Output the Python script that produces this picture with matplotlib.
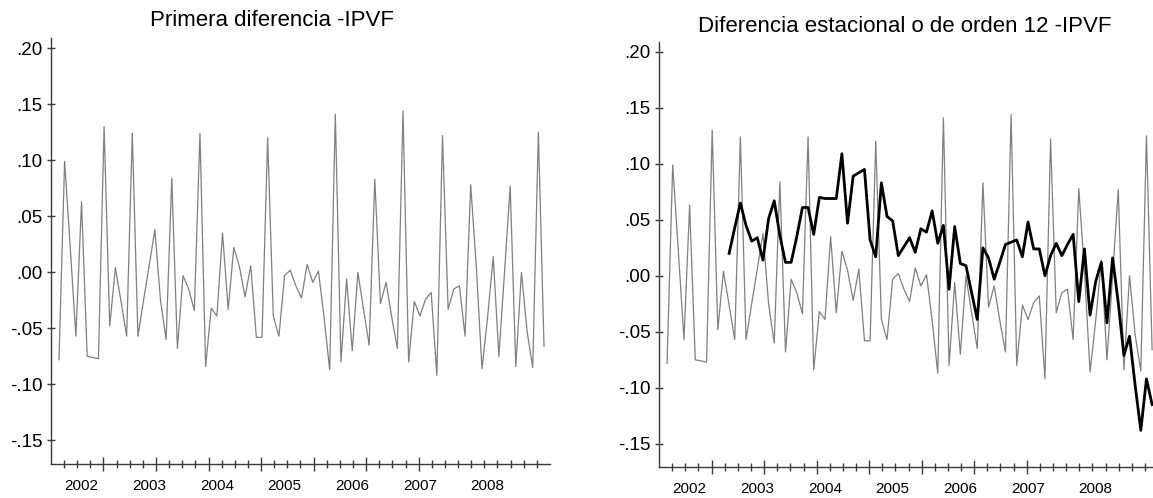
"""
IPVF - primera diferencia y diferencia estacional (orden 12)
Dos paneles estilo EViews, guardado como out.png
"""

import numpy as np
import matplotlib
matplotlib.use('Agg')
import matplotlib.pyplot as plt
import matplotlib.transforms as mtransforms
from matplotlib.ticker import FixedLocator, FuncFormatter

plt.rcParams['font.family'] = ['Liberation Sans', 'DejaVu Sans']

# ============================================================
#  Datos
# ============================================================
# D(log IPVF), mensual desde 2002M03
d1 = [
    -0.078, 0.099, 0.022, -0.057, 0.063, -0.075, -0.076, -0.077, 0.130, -0.048,
    0.004, -0.026, -0.057, 0.124, -0.057, -0.025, 0.006, 0.038, -0.025, -0.060,
    0.084, -0.068, -0.003, -0.015, -0.034, 0.124, -0.084, -0.032, -0.039, 0.035,
    -0.033, 0.022, 0.005, -0.022, 0.006, -0.058, -0.058, 0.120, -0.039, -0.057,
    -0.003, 0.002, -0.012, -0.023, 0.007, -0.009, 0.001, -0.040, -0.087, 0.141,
    -0.080, -0.006, -0.070, 0.000, -0.033, -0.065, 0.083, -0.028, -0.009, -0.040,
    -0.068, 0.144, -0.080, -0.026, -0.039, -0.024, -0.018, -0.092, 0.122, -0.033,
    -0.015, -0.012, -0.057, 0.078, 0.005, -0.086, -0.040, 0.014, -0.075, 0.000,
    0.077, -0.084, 0.000, -0.053, -0.085, 0.125, -0.066,
]

# D(log IPVF, 0, 12), empieza 11 meses despues de d1
d12 = [
    0.020, 0.043, 0.065, 0.045, 0.031, 0.034, 0.014, 0.051, 0.067, 0.036,
    0.012, 0.012, 0.035, 0.061, 0.061, 0.037, 0.070, 0.069, 0.069, 0.069,
    0.109, 0.047, 0.089, 0.092, 0.095, 0.032, 0.017, 0.083, 0.053, 0.049,
    0.018, 0.026, 0.034, 0.021, 0.042, 0.039, 0.058, 0.029, 0.045, -0.012,
    0.044, 0.011, 0.009, -0.015, -0.039, 0.025, 0.016, -0.003, 0.012, 0.028,
    0.030, 0.032, 0.017, 0.048, 0.024, 0.024, 0.000, 0.018, 0.029, 0.018,
    0.028, 0.037, -0.023, 0.024, -0.035, -0.005, 0.012, -0.042, 0.016, -0.024,
    -0.071, -0.054, -0.098, -0.138, -0.092, -0.115,
]

years = [2002, 2003, 2004, 2005, 2006, 2007, 2008]
ytick_vals = [-0.15, -0.10, -0.05, 0.00, 0.05, 0.10, 0.15, 0.20]
titles = ['Primera diferencia -IPVF', 'Diferencia estacional o de orden 12 -IPVF']

START_MONTH = 3      # d1 empieza en marzo 2002
LAG = 11             # desfase de d12 respecto a d1

XLIM = (-1.42, 87.06)
YLIM = (-0.171, 0.209)

GREY = '#808080'
AXIS_COLOR = '#3a3a3a'


def fmt_eviews(v, pos=None):
    """.05 / -.10 sin cero inicial"""
    return f"{v:.2f}".replace("0.", ".", 1)


def style_axis(ax, title, title_x, title_y):
    ax.set_xlim(*XLIM)
    ax.set_ylim(*YLIM)

    for side in ('top', 'right'):
        ax.spines[side].set_visible(False)
    for side in ('left', 'bottom'):
        ax.spines[side].set_color(AXIS_COLOR)
        ax.spines[side].set_linewidth(1.0)

    # eje y
    ax.yaxis.set_major_locator(FixedLocator(ytick_vals))
    ax.yaxis.set_major_formatter(FuncFormatter(fmt_eviews))
    ax.tick_params(axis='y', direction='inout', length=6, width=1,
                   color=AXIS_COLOR, labelsize=13.5, pad=3)

    # eje x: 38 divisiones iguales, marca larga cada 4
    edges = np.linspace(XLIM[0], XLIM[1], 39)
    ax.set_xticks(edges[4:29:4])
    ax.set_xticks(edges[1:-1], minor=True)
    ax.tick_params(axis='x', which='major', direction='inout', length=10,
                   width=1, color=AXIS_COLOR, labelbottom=False)
    ax.tick_params(axis='x', which='minor', direction='inout', length=6,
                   width=1, color=AXIS_COLOR, labelbottom=False)

    # etiquetas de anio centradas en julio
    trans = mtransforms.blended_transform_factory(ax.transData, ax.transAxes)
    for y in years:
        pos = (y - years[0]) * 12 + (7 - START_MONTH)
        ax.text(pos, -0.051, str(y), transform=trans, ha='center',
                va='center', fontsize=11, clip_on=False)

    ax.text(title_x, title_y, title, transform=ax.transAxes, ha='center',
            va='baseline', fontsize=16)


# ============================================================
#  Figura
# ============================================================
x1 = np.arange(len(d1))
x12 = np.arange(len(d12)) + LAG

fig = plt.figure(figsize=(11.53, 4.98), dpi=100)
ax1 = fig.add_axes([0.0442, 0.0683, 0.4328, 0.8554])
ax2 = fig.add_axes([0.5716, 0.0616, 0.4328, 0.8546])

ax1.plot(x1, d1, color=GREY, lw=0.9)
style_axis(ax1, titles[0], 0.443, 1.028)

ax2.plot(x1, d1, color=GREY, lw=0.9)
ax2.plot(x12, d12, color='black', lw=2.0)
style_axis(ax2, titles[1], 0.493, 1.0235)

fig.savefig('out.png', dpi=100)
plt.close(fig)
